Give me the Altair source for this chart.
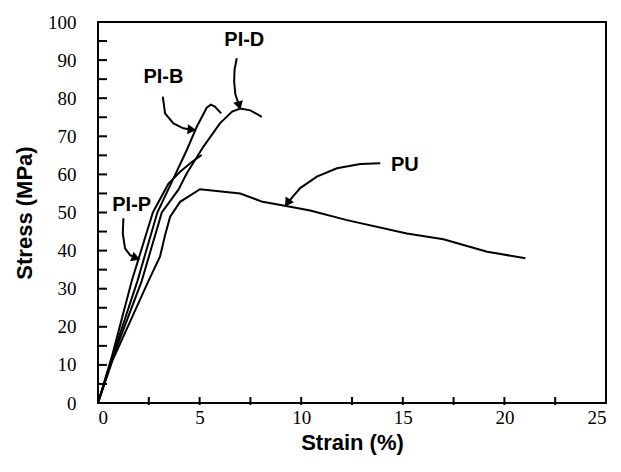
import altair as alt
import pandas as pd

# ---- curve data (strain %, stress MPa) ----
pu_strain = [0, 0.7, 2.48, 3.05, 3.3, 3.55, 4.04, 5.02, 7.0, 8.1, 9.46, 10.44, 12.25, 15.2, 17.0, 19.15, 21.03]
pu_stress = [0, 11, 32, 38.4, 44, 48.9, 52.8, 56.1, 55.0, 52.8, 51.5, 50.5, 48.0, 44.5, 43.0, 39.7, 38.0]

pip_strain = [0, 0.7, 1.66, 2.7, 3.46, 4.04, 4.6, 5.1]
pip_stress = [0, 12.5, 32, 50, 57.5, 60.7, 63.2, 65.1]

pib_strain = [0, 0.7, 1.94, 2.92, 3.79, 4.37, 4.86, 5.35, 5.55, 5.75, 6.06]
pib_stress = [0, 12, 32, 50, 59.8, 66.4, 72.5, 77.5, 78.3, 77.8, 76.0]

pid_strain = [0, 0.7, 2.15, 3.14, 3.96, 4.37, 5.19, 6.0, 6.6, 7.0, 7.5, 8.06]
pid_stress = [0, 11.5, 32, 50, 56, 60.3, 67.3, 73.4, 76.5, 77.3, 76.8, 75.1]

# ---- annotation arrows (data coords) ----
arr_pid_x = [6.83, 6.72, 6.70, 6.76, 6.91]
arr_pid_y = [90.5, 87.5, 84.3, 81.0, 78.6]
arr_pib_x = [3.19, 3.30, 3.71, 4.20, 4.55]
arr_pib_y = [80.4, 76.0, 73.4, 72.1, 71.8]
arr_pip_x = [1.25, 1.22, 1.33, 1.58, 1.78]
arr_pip_y = [48.5, 44.5, 40.6, 38.8, 38.3]
arr_pu_x = [13.89, 12.91, 11.76, 10.77, 9.95, 9.40]
arr_pu_y = [62.9, 62.7, 61.6, 59.4, 56.4, 53.0]

head_x = [6.93, 4.55, 1.80, 9.36]
head_y = [78.4, 71.8, 38.2, 52.8]
head_angle = [165, 95, 110, 215]

label_text = ["PI-D", "PI-B", "PI-P", "PU"]
label_x = [7.2, 3.22, 1.66, 15.1]
label_y = [95.3, 85.6, 52.0, 62.4]

x_ticks = [2.5, 5, 7.5, 10, 12.5, 15, 17.5, 20, 22.5]
y_ticks = [5, 10, 15, 20, 25, 30, 35, 40, 45, 50, 55, 60, 65, 70, 75, 80, 85, 90, 95]
x_labels = [0, 5, 10, 15, 20, 25]
y_labels = [0, 10, 20, 30, 40, 50, 60, 70, 80, 90, 100]

W, H = 508, 381
SERIF = "Liberation Serif, Times New Roman, Times, serif"
SANS = "Liberation Sans, Arial, sans-serif"


def long_df(pairs):
    rows = []
    for name, xs, ys in pairs:
        for i, (a, b) in enumerate(zip(xs, ys)):
            rows.append({"series": name, "i": i, "strain": a, "stress": b})
    return pd.DataFrame(rows)


curves = long_df([("PU", pu_strain, pu_stress), ("PI-P", pip_strain, pip_stress),
                  ("PI-B", pib_strain, pib_stress), ("PI-D", pid_strain, pid_stress)])
arrows = long_df([("a1", arr_pid_x, arr_pid_y), ("a2", arr_pib_x, arr_pib_y),
                  ("a3", arr_pip_x, arr_pip_y), ("a4", arr_pu_x, arr_pu_y)])
heads = pd.DataFrame({"strain": head_x, "stress": head_y, "angle": head_angle})
labels = pd.DataFrame({"strain": label_x, "stress": label_y, "text": label_text})
xtick_df = pd.DataFrame({"strain": x_ticks})
ytick_df = pd.DataFrame({"stress": y_ticks})

xs = alt.Scale(domain=[0, 25], nice=False)
ys = alt.Scale(domain=[0, 100], nice=False)

x_axis = alt.Axis(values=x_labels, ticks=False, domain=False, grid=False,
                  labelFont=SERIF, labelFontSize=19, labelColor="black", labelOverlap=False,
                  labelPadding=5, title="Strain (%)", titleFont=SANS,
                  titleFontWeight="bold", titleFontSize=22, titleColor="black", titlePadding=5)
y_axis = alt.Axis(values=y_labels, ticks=False, domain=False, grid=False,
                  labelFont=SERIF, labelFontSize=19, labelColor="black", labelOverlap=False,
                  labelPadding=22, title="Stress (MPa)", titleFont=SANS,
                  titleFontWeight="bold", titleFontSize=22, titleColor="black", titlePadding=11)

X = alt.X("strain:Q", scale=xs, axis=x_axis)
Y = alt.Y("stress:Q", scale=ys, axis=y_axis)

base_curves = alt.Chart(curves).mark_line(color="black", strokeWidth=2).encode(
    x=X, y=Y, detail="series:N", order="i:Q")

arrow_lines = alt.Chart(arrows).mark_line(color="black", strokeWidth=2).encode(
    x=X, y=Y, detail="series:N", order="i:Q")

arrow_heads = alt.Chart(heads).mark_point(shape="triangle", filled=True, color="black",
                                           size=100, opacity=1).encode(
    x=X, y=Y, angle=alt.Angle("angle:Q", scale=None))

text = alt.Chart(labels).mark_text(font=SANS, fontWeight="bold", fontSize=20,
                                   color="black", align="center", baseline="middle").encode(
    x=X, y=Y, text="text:N")

xt = alt.Chart(xtick_df).mark_rule(color="black", strokeWidth=2).encode(
    x=X, y=alt.value(H + 2), y2=alt.value(H - 6))
yt = alt.Chart(ytick_df).mark_rule(color="black", strokeWidth=2).encode(
    y=Y, x=alt.value(0), x2=alt.value(9))

chart = alt.layer(base_curves, arrow_lines, arrow_heads, text, xt, yt).properties(
    width=W, height=H,
    autosize=alt.AutoSizeParams(type="none"),
    padding={"left": 90, "top": 14, "right": 7, "bottom": 61},
    background="white",
).configure_view(stroke="black", strokeWidth=2)

chart.save("out.html", embed_options={"renderer": "svg", "actions": False})
